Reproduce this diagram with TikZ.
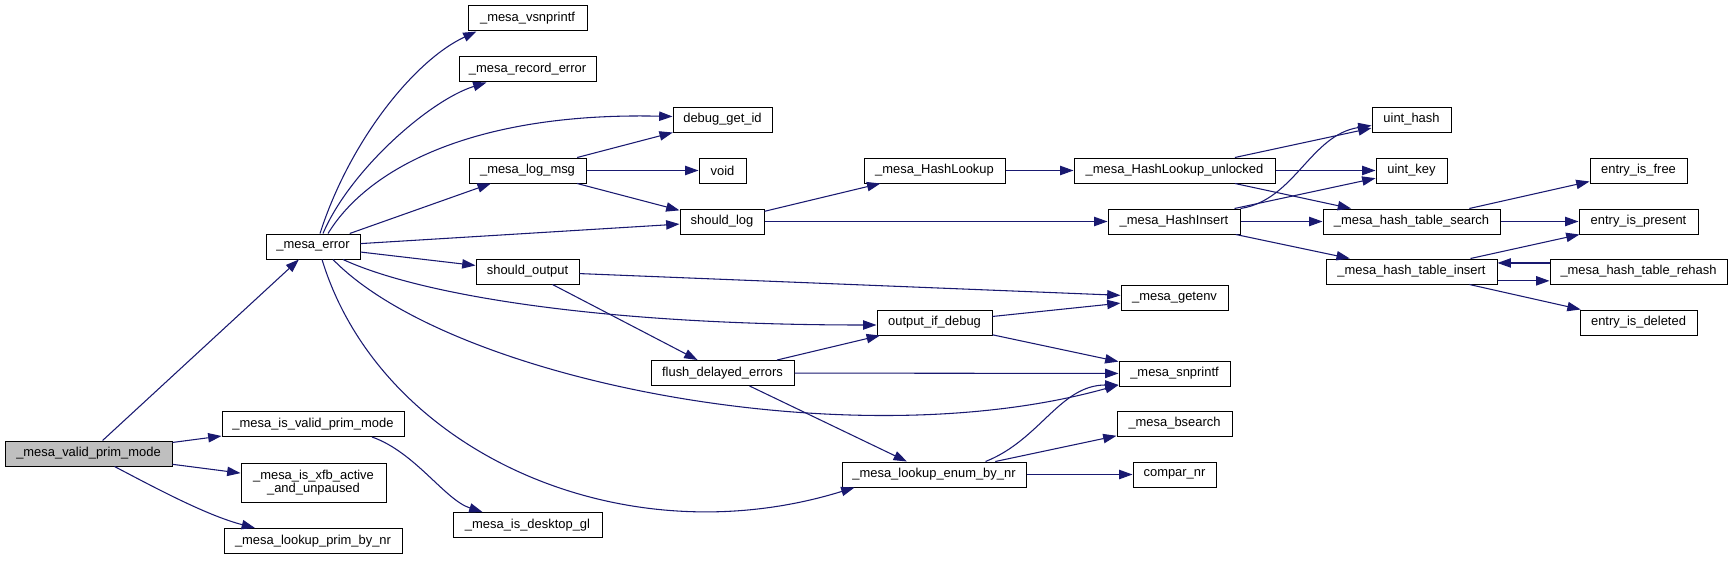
\documentclass[tikz,border=0pt]{standalone}
\usepackage{fontspec}
\setmainfont{Liberation Sans}
\usetikzlibrary{arrows.meta,calc}
\definecolor{callblue}{HTML}{191970}
\definecolor{rootgray}{HTML}{BFBFBF}
\begin{document}
\begin{tikzpicture}[x=0.75pt,y=-0.75pt,
    fn/.style={draw=black,fill=white,line width=0.75pt,inner sep=0pt,
      minimum height=18.75pt,minimum width=#1*0.75pt,
      font=\fontsize{9.7}{10}\selectfont},
    call/.style={draw=callblue,line width=0.8pt,-{Triangle[length=10pt,width=7pt]}}]
    \useasboundingbox (0,0) rectangle (1733,560);
    \node[fn=167,fill=rootgray] (valid) at (88.5,453.5) {\_mesa\_valid\_prim\_mode};
    \node[fn=182] (isvalid) at (313,424) {\_mesa\_is\_valid\_prim\_mode};
    \node[fn=145,minimum height=29.25pt,align=center] (xfb) at (313.5,482.5) {\_mesa\_is\_xfb\_active\\\_and\_unpaused};
    \node[fn=178] (lookprim) at (313,541) {\_mesa\_lookup\_prim\_by\_nr};
    \node[fn=149] (desktop) at (527.5,525) {\_mesa\_is\_desktop\_gl};
    \node[fn=94] (error) at (313,246.5) {\_mesa\_error};
    \node[fn=119] (vsnprintf) at (527.5,18.5) {\_mesa\_vsnprintf};
    \node[fn=137] (recerr) at (527.5,69.5) {\_mesa\_record\_error};
    \node[fn=117] (logmsg) at (527.5,170.5) {\_mesa\_log\_msg};
    \node[fn=103] (shouldout) at (527.5,271.5) {should\_output};
    \node[fn=99] (debugid) at (722.5,119.5) {debug\_get\_id};
    \node[fn=47] (voidfn) at (722.5,170.5) {void};
    \node[fn=84] (shouldlog) at (722,221.5) {should\_log};
    \node[fn=143] (flush) at (722.5,373) {flush\_delayed\_errors};
    \node[fn=141] (hashlookup) at (934.5,170.5) {\_mesa\_HashLookup};
    \node[fn=115] (outdbg) at (934.5,322.5) {output\_if\_debug};
    \node[fn=184] (enumnr) at (934,474.5) {\_mesa\_lookup\_enum\_by\_nr};
    \node[fn=201] (unlocked) at (1174.5,170.5) {\_mesa\_HashLookup\_unlocked};
    \node[fn=132] (hashinsert) at (1174,221.5) {\_mesa\_HashInsert};
    \node[fn=107] (getenv) at (1174.5,297.5) {\_mesa\_getenv};
    \node[fn=111] (snprintf) at (1174.5,373.5) {\_mesa\_snprintf};
    \node[fn=115] (bsearch) at (1174.5,423.5) {\_mesa\_bsearch};
    \node[fn=83] (compar) at (1174.5,474.5) {compar\_nr};
    \node[fn=79] (uinthash) at (1411.5,119.5) {uint\_hash};
    \node[fn=71] (uintkey) at (1411.5,170.5) {uint\_key};
    \node[fn=177] (search) at (1411.5,221.5) {\_mesa\_hash\_table\_search};
    \node[fn=171] (insert) at (1411.5,271.5) {\_mesa\_hash\_table\_insert};
    \node[fn=97] (free) at (1638.5,170.5) {entry\_is\_free};
    \node[fn=119] (present) at (1638.5,221.5) {entry\_is\_present};
    \node[fn=177] (rehash) at (1638.5,271.5) {\_mesa\_hash\_table\_rehash};
    \node[fn=117] (deleted) at (1638.5,322.5) {entry\_is\_deleted};

    \draw[call] (valid) -- (error);
    \draw[call] (valid) -- (isvalid);
    \draw[call] (valid) -- (xfb);
    \draw[call] ($(valid.south)+(26,0)$) .. controls (150,485) and (205,515) .. ($(lookprim.north)+(-58,0)$);
    \draw[call] ($(isvalid.south)+(59,0)$) .. controls (415,452) and (445,500) .. ($(desktop.north west)+(30,0)$);
    \draw[call] ($(error.north)+(7,0)$) .. controls (350,140) and (415,60) .. ($(vsnprintf.south west)+(9,0)$);
    \draw[call] ($(error.north)+(10,0)$) .. controls (350,170) and (430,100) .. ($(recerr.south west)+(28,0)$);
    \draw[call] ($(error.north)+(15,0)$) .. controls (370,165) and (480,112) .. ($(debugid.west)+(0,-3)$);
    \draw[call] (error) -- (logmsg);
    \draw[call] (error) -- (shouldlog);
    \draw[call] (error) -- (shouldout);
    \draw[call] ($(error.south)+(30,0)$) .. controls (420,295) and (600,325) .. ($(outdbg.west)+(0,2.5)$);
    \draw[call] ($(error.south)+(20,0)$) .. controls (450,380) and (850,460) .. ($(snprintf.south west)+(0,-1.5)$);
    \draw[call] ($(error.south)+(9,0)$) .. controls (380,450) and (620,560) .. ($(enumnr.south west)+(13,0)$);
    \draw[call] (logmsg) -- (debugid);
    \draw[call] (logmsg) -- (voidfn);
    \draw[call] (logmsg) -- (shouldlog);
    \draw[call] (shouldlog) -- (hashlookup);
    \draw[call] (shouldlog) -- (hashinsert);
    \draw[call] (shouldout) -- (getenv);
    \draw[call] (shouldout) -- (flush);
    \draw[call] (flush) -- (outdbg);
    \draw[call] (flush) -- (snprintf);
    \draw[call] (flush) -- (enumnr);
    \draw[call] (outdbg) -- (getenv);
    \draw[call] (outdbg) -- (snprintf);
    \draw[call] ($(enumnr.north east)+(-41,0)$) .. controls (1040,440) and (1060,385) .. ($(snprintf.south west)+(0,-1.5)$);
    \draw[call] (enumnr) -- (bsearch);
    \draw[call] (enumnr) -- (compar);
    \draw[call] (hashlookup) -- (unlocked);
    \draw[call] (unlocked) -- (uinthash);
    \draw[call] (unlocked) -- (uintkey);
    \draw[call] (unlocked) -- (search);
    \draw[call] (hashinsert.north east) .. controls (1295,200) and (1310,135) .. ($(uinthash.west)+(0,6)$);
    \draw[call] (hashinsert) -- (uintkey);
    \draw[call] (hashinsert) -- (search);
    \draw[call] (hashinsert) -- (insert);
    \draw[call] (search) -- (free);
    \draw[call] (search) -- (present);
    \draw[call] (insert) -- (present);
    \draw[call] ([yshift=-7pt]insert.east) -- ([yshift=-7pt]rehash.west);
    \draw[call] ([yshift=6.4pt]rehash.west) -- ([yshift=6.4pt]insert.east);
    \draw[call] (insert) -- (deleted);
\end{tikzpicture}
\end{document}
